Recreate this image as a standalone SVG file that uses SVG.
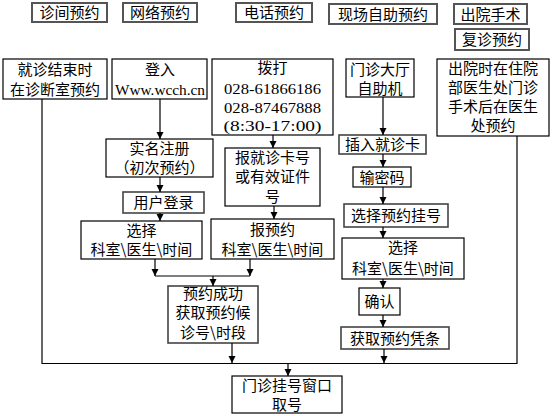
<svg xmlns="http://www.w3.org/2000/svg" width="553" height="416" viewBox="0 0 553 416">
<style>
rect{fill:#fff;stroke:#000;stroke-width:1.2}
rect.hd{stroke:#555;stroke-width:2}
rect.g{stroke:#444;stroke-width:1.6}
text{font-family:"Noto Sans CJK SC","Liberation Sans",sans-serif;font-size:15px;fill:#000;text-anchor:middle}
text.n{font-family:"Liberation Serif","Noto Sans CJK SC",serif;font-size:15.5px}
.c line,.c polyline{stroke:#000;stroke-width:1.2;fill:none}
.c .a{marker-end:url(#ah)}
</style>
<defs>
<marker id="ah" markerUnits="userSpaceOnUse" markerWidth="8" markerHeight="8" refX="7" refY="3.5" orient="auto"><path d="M0,0 L7,3.5 L0,7 z" fill="#000"/></marker>
</defs>
<g id="h1"><rect class="hd" x="32" y="3" width="75" height="19"/><text x="69.5" y="18">诊间预约</text></g>
<g id="h2"><rect class="hd" x="123" y="3" width="74" height="19"/><text x="160" y="18">网络预约</text></g>
<g id="h3"><rect class="hd" x="236" y="3" width="76" height="19"/><text x="274" y="18">电话预约</text></g>
<g id="h4"><rect class="hd" x="329" y="4" width="108" height="20"/><text x="383" y="19.5">现场自助预约</text></g>
<g id="h5"><rect class="hd" x="454" y="4" width="73" height="20"/><text x="490.5" y="19.5">出院手术</text></g>
<g id="h6"><rect class="hd" x="455" y="29" width="74" height="21"/><text x="492" y="45">复诊预约</text></g>

<g id="n1"><rect x="3" y="59" width="104" height="40"/><text x="55" y="75">就诊结束时</text><text x="55" y="94.5">在诊断室预约</text></g>
<g id="n2"><rect x="112" y="59" width="95" height="40"/><text x="160" y="75">登入</text><text class="n" x="160" y="94.5" textLength="90" lengthAdjust="spacingAndGlyphs">Www.wcch.cn</text></g>
<g id="n3"><rect x="212" y="59" width="121" height="76"/><text x="272.5" y="73">拨打</text><text class="n" x="272.5" y="93.5" textLength="97" lengthAdjust="spacingAndGlyphs">028-61866186</text><text class="n" x="272.5" y="112.5" textLength="97" lengthAdjust="spacingAndGlyphs">028-87467888</text><text class="n" x="272.5" y="131" textLength="98" lengthAdjust="spacingAndGlyphs">(8:30-17:00)</text></g>
<g id="n4"><rect x="346" y="59" width="68" height="38"/><text x="380" y="75">门诊大厅</text><text x="380" y="94">自助机</text></g>
<g id="n5"><rect x="437" y="59" width="112" height="77"/><text x="493" y="73.5">出院时在住院</text><text x="493" y="92.5">部医生处门诊</text><text x="493" y="111.5">手术后在医生</text><text x="493" y="130.5">处预约</text></g>

<g id="n6"><rect x="106" y="139" width="107" height="38"/><text x="159.5" y="154">实名注册</text><text x="159.5" y="173">（初次预约）</text></g>
<g id="n7"><rect class="g" x="123" y="192" width="81" height="21"/><text x="163.5" y="208">用户登录</text></g>
<g id="n8"><rect x="81" y="221" width="121" height="38"/><text x="141.5" y="236">选择</text><text x="141.5" y="255">科室\医生\时间</text></g>
<g id="n9"><rect x="225" y="148" width="95" height="58"/><text x="272.5" y="163">报就诊卡号</text><text x="272.5" y="182">或有效证件</text><text x="272.5" y="201.5">号</text></g>
<g id="n10"><rect x="211" y="219" width="123" height="40"/><text x="272.5" y="234.5">报预约</text><text x="272.5" y="254.5">科室\医生\时间</text></g>
<g id="n11"><rect class="g" x="168" y="286" width="90" height="57"/><text x="213" y="299">预约成功</text><text x="213" y="318">获取预约候</text><text x="213" y="337.5">诊号\时段</text></g>

<g id="n12"><rect class="g" x="339" y="135" width="87" height="19"/><text x="382.5" y="150">插入就诊卡</text></g>
<g id="n13"><rect x="353" y="167" width="58" height="20"/><text x="382" y="182.5">输密码</text></g>
<g id="n14"><rect class="g" x="344" y="204" width="104" height="23"/><text x="396" y="221">选择预约挂号</text></g>
<g id="n15"><rect x="342" y="238" width="122" height="41"/><text x="403" y="253">选择</text><text x="403" y="273.5">科室\医生\时间</text></g>
<g id="n16"><rect x="359" y="288" width="41" height="27"/><text x="379.5" y="307">确认</text></g>
<g id="n17"><rect class="g" x="341" y="327" width="108" height="22"/><text x="395" y="343.5">获取预约凭条</text></g>

<g id="n18"><rect x="232" y="376" width="110" height="37"/><text x="287" y="390.5">门诊挂号窗口</text><text x="287" y="409.5">取号</text></g>

<g id="connectors" class="c">
<line class="a" x1="160" y1="99" x2="160" y2="139"/>
<line class="a" x1="160" y1="177" x2="160" y2="192"/>
<line class="a" x1="160" y1="213" x2="160" y2="221"/>
<line class="a" x1="273" y1="135" x2="273" y2="148"/>
<line class="a" x1="274" y1="206" x2="274" y2="219"/>
<line class="a" x1="155" y1="259" x2="155" y2="276"/>
<line class="a" x1="250" y1="259" x2="250" y2="276"/>
<line x1="155" y1="276" x2="250" y2="276"/>
<line class="a" x1="213" y1="276" x2="213" y2="286"/>
<line class="a" x1="383" y1="97" x2="383" y2="135"/>
<line class="a" x1="383" y1="154" x2="383" y2="167"/>
<line class="a" x1="383" y1="187" x2="383" y2="204"/>
<line class="a" x1="383" y1="227" x2="383" y2="238"/>
<line class="a" x1="383" y1="279" x2="383" y2="288"/>
<line class="a" x1="383" y1="315" x2="383" y2="327"/>
<line class="a" x1="384" y1="349" x2="384" y2="363"/>
<line class="a" x1="232" y1="343" x2="232" y2="363"/>
<polyline points="42,99 42,363.5 517,363.5 517,136"/>
<line class="a" x1="288" y1="363.5" x2="288" y2="376"/>
</g>
</svg>
